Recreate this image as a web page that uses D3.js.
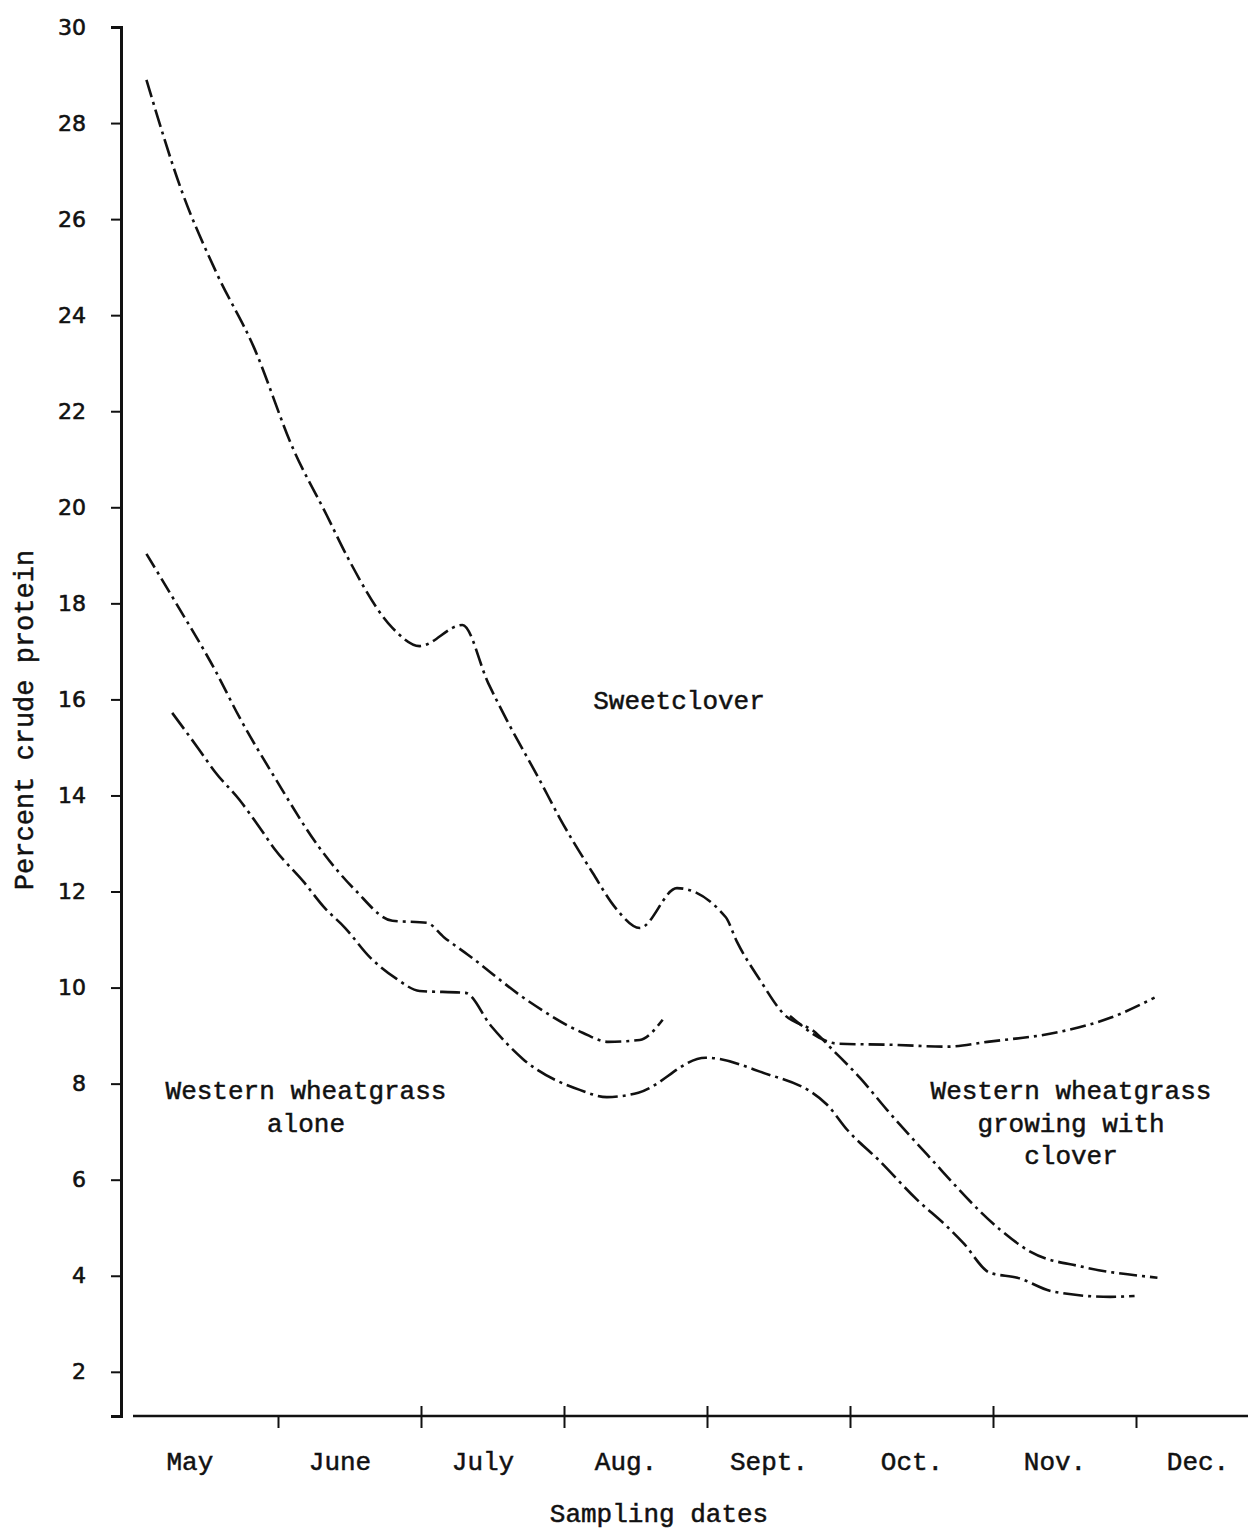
<!DOCTYPE html>
<html>
<head>
<meta charset="utf-8">
<script src="https://cdn.jsdelivr.net/npm/d3@7"></script>
<style>
  body { margin: 0; background: #fff; }
  text { fill: #111; }
</style>
</head>
<body>
<div id="chart"></div>
<script>
// Month labels (x position is months after May 1) and y tick values.
const months = ["May", "June", "July", "Aug.", "Sept.", "Oct.", "Nov.", "Dec."];
const monthBounds = [1, 2, 3, 4, 5, 6, 7];
const yTicks = [2, 4, 6, 8, 10, 12, 14, 16, 18, 20, 22, 24, 26, 28, 30];

// Series: [months after May 1, percent crude protein]; null = gap in the trace.
const sweetclover = [
  [0.08, 28.9], [0.33, 26.56], [0.57, 24.88], [0.83, 23.34], [1.11, 21.19], [1.34, 19.84],
  [1.49, 18.94], [1.80, 17.49], [1.99, 17.11], [2.29, 17.55], [2.47, 16.34], [2.60, 15.57],
  [2.83, 14.32], [2.97, 13.53], [3.20, 12.39], [3.36, 11.66], [3.53, 11.24], [3.79, 12.07],
  [4.13, 11.47], [4.21, 10.95], [4.37, 10.16], [4.53, 9.47], [4.76, 9.06], [4.88, 8.70],
  [5.07, 8.12], [5.26, 7.45], [5.54, 6.52], [6.05, 4.96], [6.26, 4.50], [6.62, 4.19], [7.15, 3.96]
];
const wheatgrassWithClover = [
  [0.08, 19.03], [0.29, 17.99], [0.56, 16.61], [0.73, 15.63], [0.98, 14.36], [1.29, 12.91],
  [1.54, 12.03], [1.80, 11.39], [2.04, 11.35], [2.16, 11.05], [2.33, 10.68], [2.75, 9.72],
  [3.13, 9.06], [3.31, 8.87], [3.53, 8.91], [3.69, 9.33], [3.75, null], [4.58, 9.41],
  [4.92, 8.83], [5.29, 8.81], [5.68, 8.77], [5.96, 8.87], [6.47, 9.08], [6.82, 9.37], [7.13, 9.79]
];
const wheatgrassAlone = [
  [0.26, 15.72], [0.44, 14.99], [0.56, 14.49], [0.73, 13.91], [0.87, 13.34], [0.98, 12.87],
  [1.18, 12.20], [1.32, 11.68], [1.47, 11.24], [1.64, 10.64], [1.83, 10.18], [1.99, 9.93],
  [2.31, 9.89], [2.49, 9.20], [2.71, 8.52], [3.11, 7.87], [3.30, 7.72], [3.52, 7.81],
  [3.99, 8.54], [4.37, 8.25], [4.84, 7.56], [4.98, 7.04], [5.20, 6.41], [5.47, 5.58],
  [5.68, 5.02], [5.79, 4.69], [5.98, 4.06], [6.17, 3.96], [6.42, 3.67], [6.82, 3.56], [6.99, 3.58]
];

// Chart dimensions.
const width = 1248;
const height = 1531;
const axisX = 121;
const axisY = 1416;
const mono = "'Liberation Mono', 'DejaVu Sans Mono', monospace";

// Scales: x in months after May 1, y in percent.
const x = d3.scaleLinear([0, 7], [135, 1136]);
const y = d3.scaleLinear([1.08, 30], [axisY, 27]);

const svg = d3.create("svg")
  .attr("width", width)
  .attr("height", height)
  .attr("viewBox", [0, 0, width, height])
  .style("background", "#fff");

d3.select("#chart").append(() => svg.node());

// Y axis with short ticks.
svg.append("g")
  .attr("transform", `translate(${axisX},0)`)
  .call(d3.axisLeft(y).tickValues(yTicks).tickSize(10).tickPadding(25).tickFormat(d3.format("d")))
  .call(g => g.select(".domain").attr("stroke", "#111").attr("stroke-width", 3))
  .call(g => g.selectAll(".tick line").attr("stroke", "#111").attr("stroke-width", 2))
  .call(g => g.selectAll(".tick text")
    .attr("font-family", "'DejaVu Sans', sans-serif")
    .attr("font-size", 22)
    .attr("fill", "#111")
    .attr("stroke", "#111")
    .attr("stroke-width", 0.6));

// X axis: month boundary ticks crossing the line.
svg.append("g")
  .attr("transform", `translate(0,${axisY})`)
  .call(d3.axisBottom(x).tickValues(monthBounds).tickSize(12).tickFormat(""))
  .call(g => g.select(".domain")
    .attr("d", `M${x(0) - 2},0H${width}`)
    .attr("stroke", "#111").attr("stroke-width", 2.5))
  .call(g => g.selectAll(".tick line")
    .attr("y1", d => (d === 1 || d === 7) ? 0 : -10)
    .attr("stroke", "#111").attr("stroke-width", 2));

// Month names sit inside each month span.
svg.append("g")
  .attr("transform", `translate(0,${axisY})`)
  .call(d3.axisBottom(x).tickValues(months.map((d, i) => i + (i === 0 ? 0.38 : 0.43))).tickSize(0).tickPadding(36)
    .tickFormat((d, i) => months[i]))
  .call(g => g.select(".domain").remove())
  .call(g => g.selectAll(".tick text")
    .attr("font-family", mono)
    .attr("font-size", 26)
    .attr("fill", "#111")
    .attr("stroke", "#111")
    .attr("stroke-width", 0.5));

// Dash-dot curves for the three series.
const line = d3.line()
  .defined(d => d[1] != null)
  .x(d => x(d[0]))
  .y(d => y(d[1]))
  .curve(d3.curveMonotoneX);

const series = [
  { data: sweetclover, dash: "18,5,3,5" },
  { data: wheatgrassWithClover, dash: "16,5,3,5" },
  { data: wheatgrassAlone, dash: "20,5,3,5" }
];

svg.append("g")
  .selectAll("path")
  .data(series)
  .join("path")
    .attr("fill", "none")
    .attr("stroke", "#111")
    .attr("stroke-width", 2.6)
    .attr("stroke-dasharray", d => d.dash)
    .attr("d", d => line(d.data));

// Series labels.
const labels = [
  { lines: ["Sweetclover"], x: 679, y: 709 },
  { lines: ["Western wheatgrass", "alone"], x: 306, y: 1099 },
  { lines: ["Western wheatgrass", "growing with", "clover"], x: 1071, y: 1099 }
];

labels.forEach(l => {
  svg.append("text")
    .attr("x", l.x)
    .attr("y", l.y)
    .attr("text-anchor", "middle")
    .attr("font-family", mono)
    .attr("font-size", 26)
    .attr("stroke", "#111")
    .attr("stroke-width", 0.5)
    .selectAll("tspan")
    .data(l.lines)
    .join("tspan")
      .attr("x", l.x)
      .attr("dy", (d, i) => i === 0 ? 0 : 32.5)
      .text(d => d);
});

// Axis titles.
svg.append("text")
  .attr("x", 659)
  .attr("y", 1522)
  .attr("text-anchor", "middle")
  .attr("font-family", mono)
  .attr("font-size", 26)
  .attr("stroke", "#111")
  .attr("stroke-width", 0.5)
  .text("Sampling dates");

svg.append("text")
  .attr("transform", "translate(33,720) rotate(-90)")
  .attr("text-anchor", "middle")
  .attr("font-family", mono)
  .attr("font-size", 27)
  .attr("stroke", "#111")
  .attr("stroke-width", 0.5)
  .text("Percent crude protein");
</script>
</body>
</html>
